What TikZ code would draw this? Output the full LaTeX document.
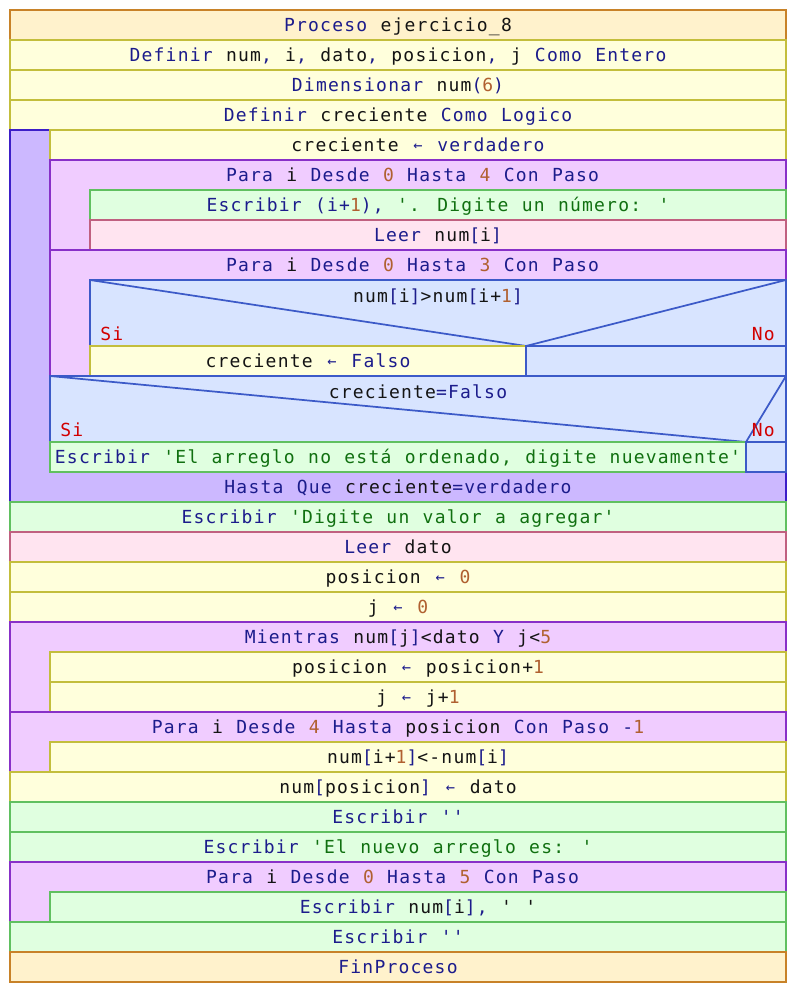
\documentclass[tikz,border=0pt]{standalone}
\usepackage{fontspec}
\newfontfamily\nsfont{DejaVu Sans Mono}[LetterSpace=6.7,WordSpace={1.11,0,0},Ligatures=TeXOff]
\definecolor{procfill}{RGB}{255,242,204}
\definecolor{procline}{RGB}{200,130,40}
\definecolor{asigfill}{RGB}{255,255,220}
\definecolor{asigline}{RGB}{195,190,60}
\definecolor{repefill}{RGB}{204,184,255}
\definecolor{repeline}{RGB}{60,30,200}
\definecolor{parafill}{RGB}{240,204,255}
\definecolor{paraline}{RGB}{136,48,200}
\definecolor{escrfill}{RGB}{224,255,224}
\definecolor{escrline}{RGB}{96,192,96}
\definecolor{leerfill}{RGB}{255,228,240}
\definecolor{leerline}{RGB}{192,96,128}
\definecolor{condfill}{RGB}{216,228,255}
\definecolor{condline}{RGB}{60,90,200}
\definecolor{kwcol}{RGB}{28,28,140}
\definecolor{numcol}{RGB}{176,96,48}
\definecolor{strcol}{RGB}{16,112,16}
\definecolor{idcol}{RGB}{20,20,20}
\definecolor{sinocol}{RGB}{210,0,0}
\tikzset{
  nsbox/.style   = {line width=1.1pt},
  procbox/.style = {nsbox, fill=procfill, draw=procline},
  asigbox/.style = {nsbox, fill=asigfill, draw=asigline},
  repebox/.style = {nsbox, fill=repefill, draw=repeline},
  parabox/.style = {nsbox, fill=parafill, draw=paraline},
  escrbox/.style = {nsbox, fill=escrfill, draw=escrline},
  leerbox/.style = {nsbox, fill=leerfill, draw=leerline},
  condbox/.style = {nsbox, fill=condfill, draw=condline},
  diag/.style    = {line width=1.3pt, draw=condline},
  txt/.style     = {font=\nsfont\fontsize{13.5}{16}\selectfont, inner sep=0pt,
                    text height=9.8pt, text depth=0pt, text=idcol},
  sino/.style    = {txt, text=sinocol}
}
\newcommand{\kw}[1]{\textcolor{kwcol}{#1}}
\newcommand{\nm}[1]{\textcolor{numcol}{#1}}
\newcommand{\sr}[1]{\textcolor{strcol}{#1}}
\newcommand{\asg}{\textcolor{kwcol}{\makebox[0.669em]{\raisebox{0.9pt}{\fontsize{11.5}{12}\selectfont ←}}}}
% one row: style, x1, y1, x2, y2, name, text
\newcommand{\nsrow}[7]{%
  \draw[#1] (#2,#3) rectangle (#4,#5);
  \node[txt] (#6) at ({(#2+#4)/2},{(#3+#5)/2}) {#7};}

\begin{document}
\begin{tikzpicture}[x=0.75pt, y=-0.75pt]
\fill[white] (0,0) rectangle (796,992);
\useasboundingbox (0,0) rectangle (796,992);

\nsrow{procbox}{10}{10}{786}{40}{r1}{\kw{Proceso} ejercicio\_8}
\nsrow{asigbox}{10}{40}{786}{70}{r2}{\kw{Definir} num\kw{,} i\kw{,} dato\kw{,} posicion\kw{,} j \kw{Como Entero}}
\nsrow{asigbox}{10}{70}{786}{100}{r3}{\kw{Dimensionar} num\kw{(}\nm{6}\kw{)}}
\nsrow{asigbox}{10}{100}{786}{130}{r4}{\kw{Definir} creciente \kw{Como Logico}}

% repetir ... hasta que
\draw[repebox] (10,130) rectangle (786,502);
\nsrow{asigbox}{50}{130}{786}{160}{r5}{creciente \asg{} \kw{verdadero}}
\draw[parabox] (50,160) rectangle (786,250);
\node[txt] (r6) at (418,175) {\kw{Para} i \kw{Desde} \nm{0} \kw{Hasta} \nm{4} \kw{Con Paso}\hphantom{x}};
\nsrow{escrbox}{90}{190}{786}{220}{r7}{\kw{Escribir (i+}\nm{1}\kw{),} \sr{'. Digite un número: '}}
\nsrow{leerbox}{90}{220}{786}{250}{r8}{\kw{Leer} num\kw{[}i\kw{]}}
\draw[parabox] (50,250) rectangle (786,376);
\node[txt] (r9) at (418,265) {\kw{Para} i \kw{Desde} \nm{0} \kw{Hasta} \nm{3} \kw{Con Paso}\hphantom{x}};

% si num[i]>num[i+1]
\draw[condbox] (90,280) rectangle (786,346);
\coordinate (c1) at (526,346);
\draw[diag] (90,280) -- (c1) -- (786,280);
\node[txt] (r10) at (438,296) {num\kw{[}i\kw{]}>num\kw{[}i+\nm{1}\kw{]}};
\node[sino, anchor=west] (si1) at (100,334) {Si};
\node[sino, anchor=east] (no1) at (775,334) {No};
\nsrow{asigbox}{90}{346}{526}{376}{r11}{creciente \asg{} \kw{Falso}}
\draw[condbox] (526,346) rectangle (786,376);

% si creciente=Falso
\draw[condbox] (50,376) rectangle (786,442);
\coordinate (c2) at (746,442);
\draw[diag] (50,376) -- (c2) -- (786,376);
\node[txt] (r12) at (418,392) {creciente\kw{=Falso}};
\node[sino, anchor=west] (si2) at (60,430) {Si};
\node[sino, anchor=east] (no2) at (775,430) {No};
\nsrow{escrbox}{50}{442}{746}{472}{r13}{\kw{Escribir} \sr{'El arreglo no está ordenado, digite nuevamente'}}
\draw[condbox] (746,442) rectangle (786,472);
\node[txt] (r14) at (398,487) {\kw{Hasta Que} creciente\kw{=verdadero}};

\nsrow{escrbox}{10}{502}{786}{532}{r15}{\kw{Escribir} \sr{'Digite un valor a agregar'}}
\nsrow{leerbox}{10}{532}{786}{562}{r16}{\kw{Leer} dato}
\nsrow{asigbox}{10}{562}{786}{592}{r17}{posicion \asg{} \nm{0}}
\nsrow{asigbox}{10}{592}{786}{622}{r18}{j \asg{} \nm{0}}

% mientras
\draw[parabox] (10,622) rectangle (786,712);
\node[txt] (r19) at (398,637) {\kw{Mientras} num\kw{[}j\kw{]}<dato \kw{Y} j<\nm{5}};
\nsrow{asigbox}{50}{652}{786}{682}{r20}{posicion \asg{} posicion+\nm{1}}
\nsrow{asigbox}{50}{682}{786}{712}{r21}{j \asg{} j+\nm{1}}

\draw[parabox] (10,712) rectangle (786,772);
\node[txt] (r22) at (398,727) {\kw{Para} i \kw{Desde} \nm{4} \kw{Hasta} posicion \kw{Con Paso -}\nm{1}};
\nsrow{asigbox}{50}{742}{786}{772}{r23}{num\kw{[}i+\nm{1}\kw{]}<-num\kw{[}i\kw{]}}

\nsrow{asigbox}{10}{772}{786}{802}{r24}{num\kw{[}posicion\kw{]} \asg{} dato}
\nsrow{escrbox}{10}{802}{786}{832}{r25}{\kw{Escribir ''}}
\nsrow{escrbox}{10}{832}{786}{862}{r26}{\kw{Escribir} \sr{'El nuevo arreglo es: '}}

\draw[parabox] (10,862) rectangle (786,922);
\node[txt] (r27) at (398,877) {\kw{Para} i \kw{Desde} \nm{0} \kw{Hasta} \nm{5} \kw{Con Paso}\hphantom{x}};
\nsrow{escrbox}{50}{892}{786}{922}{r28}{\kw{Escribir} num\kw{[}i\kw{],} ' '}

\nsrow{escrbox}{10}{922}{786}{952}{r29}{\kw{Escribir ''}}
\nsrow{procbox}{10}{952}{786}{982}{r30}{\kw{FinProceso}}
\end{tikzpicture}
\end{document}
